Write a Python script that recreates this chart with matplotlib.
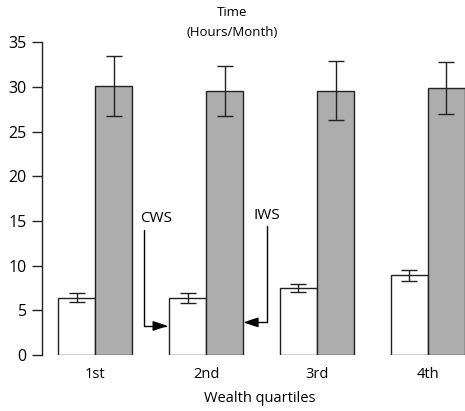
import matplotlib
matplotlib.use("Agg")
import matplotlib.pyplot as plt
import numpy as np

plt.rcParams["font.family"] = ["Open Sans", "DejaVu Sans"]
plt.rcParams["font.size"] = 10

# data
quartiles = ["1st", "2nd", "3rd", "4th"]
cws_mean = [6.4, 6.4, 7.5, 8.9]
cws_err = [0.5, 0.55, 0.5, 0.65]
iws_mean = [30.1, 29.6, 29.6, 29.9]
iws_err = [3.35, 2.8, 3.3, 2.9]
yticks = [0, 5, 10, 15, 20, 25, 30, 35]

x = np.arange(len(quartiles))
w = 0.335

fig = plt.figure(figsize=(4.65, 4.11), dpi=100)
ax = fig.add_axes([0.0903, 0.1363, 0.9097, 0.7607])

ax.bar(x - w / 2, cws_mean, w, color="white", edgecolor="#222222", linewidth=1.0,
       yerr=cws_err, capsize=6, error_kw=dict(ecolor="#222222", elinewidth=1.0, capthick=1.0))
ax.bar(x + w / 2, iws_mean, w, color="#adadad", edgecolor="#222222", linewidth=1.0,
       yerr=iws_err, capsize=6, error_kw=dict(ecolor="#222222", elinewidth=1.0, capthick=1.0))

ax.set_xlim(-0.481, 3.336)
ax.set_ylim(0, 35)
ax.set_yticks(yticks)
ax.set_xticks(x)
ax.set_xticklabels(quartiles)
ax.tick_params(axis="x", length=0, pad=9, labelsize=10.5)
ax.tick_params(axis="y", length=7, width=1.0, color="#222222", pad=4, labelsize=11.5)
for s in ["top", "right", "bottom"]:
    ax.spines[s].set_visible(False)
ax.spines["left"].set_color("#222222")
ax.spines["left"].set_linewidth(1.0)

ax.set_xlabel("Wealth quartiles", fontsize=10.5)
ax.xaxis.set_label_coords(0.515, -0.115)

fig.text(0.5, 0.97, "Time", ha="center", va="center", fontsize=9.5)
fig.text(0.5, 0.922, "(Hours/Month)", ha="center", va="center", fontsize=9.5)

# CWS / IWS pointers
arrow = dict(arrowstyle="-|>,head_length=0.9,head_width=0.3", color="black", lw=1.0,
             shrinkA=0, shrinkB=0, connectionstyle="angle,angleA=90,angleB=0,rad=0")
ax.annotate("", xy=(0.655, 3.25), xytext=(0.442, 14.0), arrowprops=arrow)
ax.text(0.55, 15.3, "CWS", ha="center", va="center", fontsize=11)
ax.annotate("", xy=(1.335, 3.65), xytext=(1.545, 14.4), arrowprops=arrow)
ax.text(1.545, 15.6, "IWS", ha="center", va="center", fontsize=11)

fig.savefig("out.png", dpi=100)
